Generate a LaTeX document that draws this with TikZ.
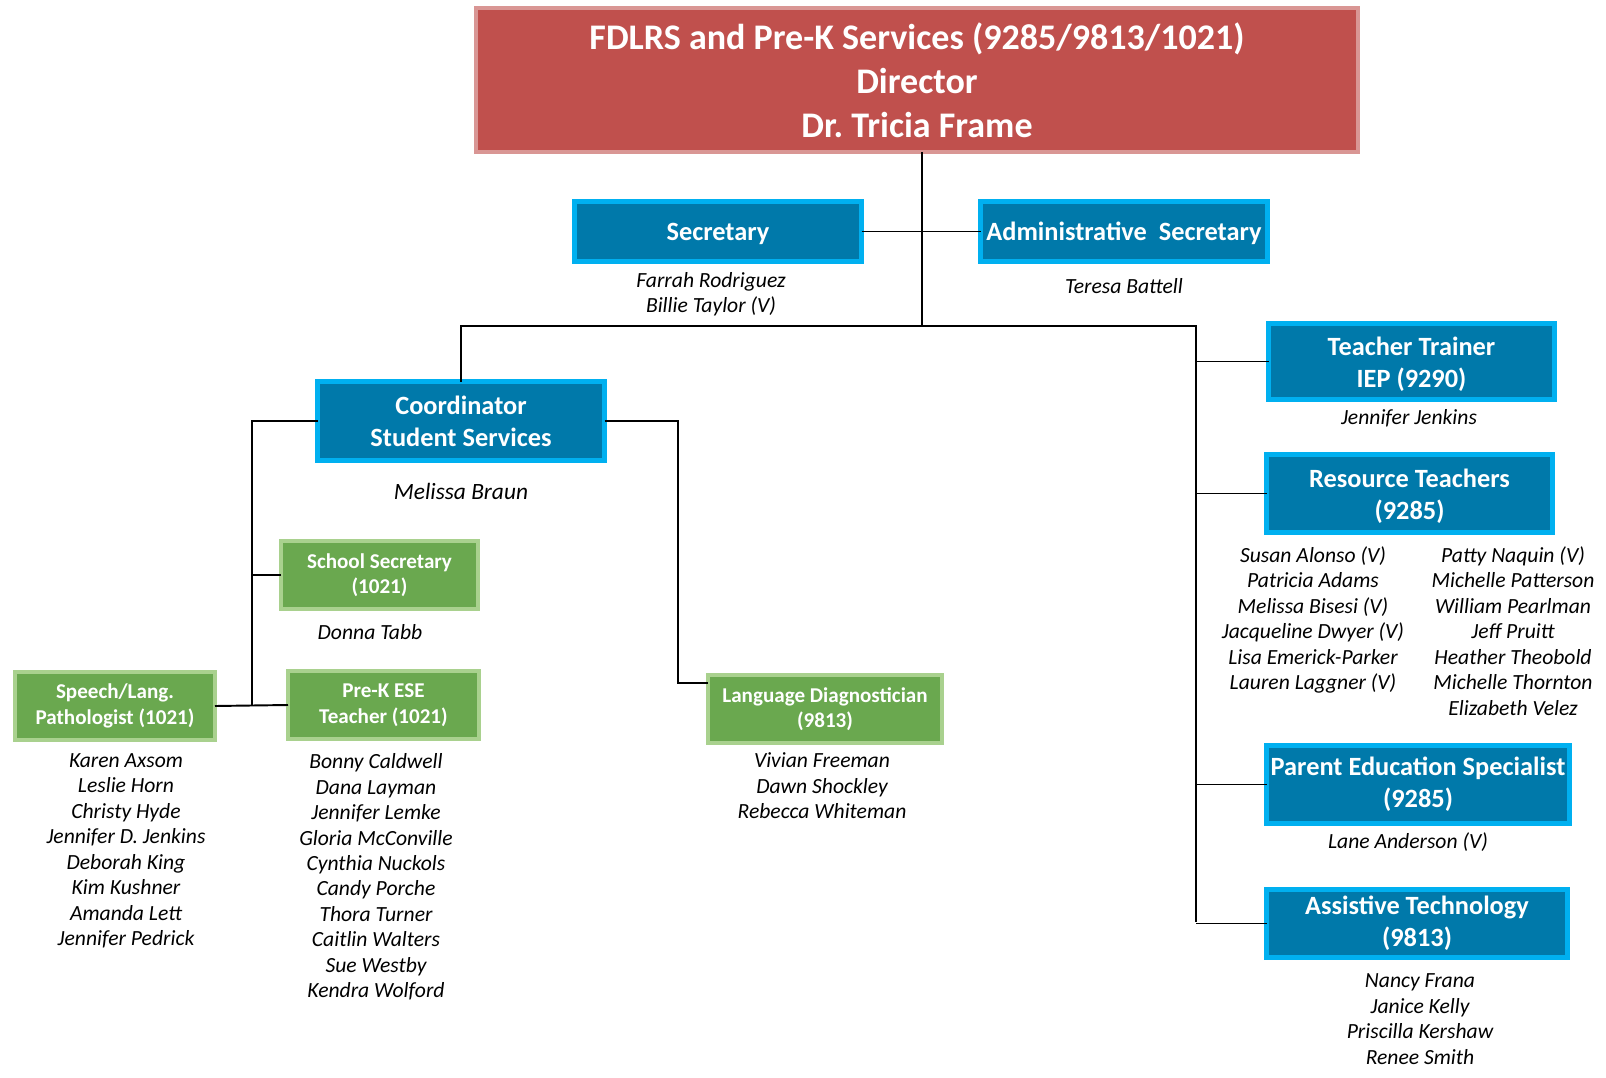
\documentclass[tikz,border=0pt]{standalone}
\usepackage{fontspec}
\setmainfont{Carlito}
\frenchspacing
\definecolor{dirred}{HTML}{C0504D}
\definecolor{dirrim}{HTML}{D99694}
\definecolor{blufill}{HTML}{0079AA}
\definecolor{blurim}{HTML}{00B0F0}
\definecolor{grnfill}{HTML}{6AA84F}
\definecolor{grnrim}{HTML}{A9D18E}
\begin{document}
\begin{tikzpicture}[x=0.02cm, y=-0.02cm, every node/.style={align=center, inner sep=0pt, outer sep=0pt},
  dirbox/.style 2 args={draw=dirrim, fill=dirred, line width=4*0.02cm, text=white, font=\bfseries\fontsize{20.5}{25}\selectfont, minimum width=#1*0.02cm, minimum height=#2*0.02cm},
  bluebox/.style 2 args={draw=blurim, fill=blufill, line width=5*0.02cm, text=white, font=\bfseries\fontsize{15}{18.2}\selectfont, minimum width=#1*0.02cm, minimum height=#2*0.02cm},
  grnbox/.style 2 args={draw=grnrim, fill=grnfill, line width=4*0.02cm, text=white, font=\bfseries\fontsize{12}{14.5}\selectfont, minimum width=#1*0.02cm, minimum height=#2*0.02cm},
  names/.style={font=\itshape\fontsize{12.3}{14.5}\selectfont},
  link/.style={line width=1.1pt}]
  \useasboundingbox (0,0) rectangle (1606,1078);
  \node[dirbox={882}{144}] (dir) at (917,80) {FDLRS and Pre-K Services (9285/9813/1021)\\Director\\Dr. Tricia Frame};
  \node[bluebox={287}{60}] (sec) at (718,231.5) {\rule{0pt}{13pt}Secretary};
  \node[bluebox={287}{60}] (adm) at (1124,231.5) {\rule{0pt}{13pt}Administrative\ \ Secretary};
  \node[bluebox={287}{79}] (coord) at (461,421) {Coordinator\\Student Services};
  \node[bluebox={286}{76}] (trainer) at (1411.5,361.5) {\rule{0pt}{14pt}Teacher Trainer\\IEP (9290)};
  \node[bluebox={286}{78}] (res) at (1409.5,493.5) {\rule{0pt}{14pt}Resource Teachers\\(9285)};
  \node[bluebox={303}{78}] (parent) at (1418,784.5) {Parent Education Specialist\\(9285)};
  \node[bluebox={301}{68}] (at) at (1417,923.5) {Assistive Technology\\(9813)};
  \node[grnbox={197}{68}] (schsec) at (379.5,575) {School Secretary\\(1021)};
  \node[grnbox={200}{68}] (speech) at (115,706) {Speech/Lang.\\Pathologist (1021)};
  \node[grnbox={191}{68}] (prek) at (383.5,705) {Pre-K ESE\\Teacher (1021)};
  \node[grnbox={234}{68}] (lang) at (825,709) {Language Diagnostician\\(9813)};

  \node[names] (secn) at (711,294) {Farrah Rodriguez\\Billie Taylor (V)};
  \node[names] (admn) at (1124,286) {Teresa Battell};
  \node[names, font=\itshape\fontsize{13.3}{16}\selectfont] (coordn) at (461,491) {Melissa Braun};
  \node[names] (schsecn) at (370,632) {Donna Tabb};
  \node[names] (speechn) at (126,851) {Karen Axsom\\Leslie Horn\\Christy Hyde\\Jennifer D. Jenkins\\Deborah King\\Kim Kushner\\Amanda Lett\\Jennifer Pedrick};
  \node[names] (prekn) at (376,877) {Bonny Caldwell\\Dana Layman\\Jennifer Lemke\\Gloria McConville\\Cynthia Nuckols\\Candy Porche\\Thora Turner\\Caitlin Walters\\Sue Westby\\Kendra Wolford};
  \node[names] (langn) at (822,786) {Vivian Freeman\\Dawn Shockley\\Rebecca Whiteman};
  \node[names] (trainern) at (1409,418) {Jennifer Jenkins};
  \node[names] (resn1) at (1313,620) {Susan Alonso (V)\\Patricia Adams\\Melissa Bisesi (V)\\Jacqueline Dwyer (V)\\Lisa Emerick-Parker\\Lauren Laggner (V)};
  \node[names] (resn2) at (1513,631) {Patty Naquin (V)\\Michelle Patterson\\William Pearlman\\Jeff Pruitt\\Heather Theobold\\Michelle Thornton\\Elizabeth Velez};
  \node[names] (parentn) at (1408,842) {Lane Anderson (V)};
  \node[names] (atn) at (1420,1019) {Nancy Frana\\Janice Kelly\\Priscilla Kershaw\\Renee Smith};

  \coordinate (hub) at (922,326);
  \coordinate (rspine) at (1196,326);
  \coordinate (rbot) at (1196,922);
  \coordinate (lbot) at (252,706);
  \coordinate (lturn) at (678,683);
  \draw[link] (hub |- dir.south) -- (hub);
  \draw[link] (sec.east) -- (adm.west);
  \draw[link] (coord.north) |- (rspine) -- (rbot);
  \draw[link] (trainer.west) -- (trainer.west -| rspine);
  \draw[link] (res.west) -- (res.west -| rspine);
  \draw[link] (parent.west) -- (parent.west -| rspine);
  \draw[link] (at.west) -- (at.west -| rspine);
  \draw[link] (coord.west) -| (lbot);
  \draw[link] (schsec.west) -- (schsec.west -| lbot);
  \draw[link] (speech.east) -- (prek.west);
  \draw[link] (coord.east) -| (lturn) -- (lturn -| lang.west);
\end{tikzpicture}
\end{document}
